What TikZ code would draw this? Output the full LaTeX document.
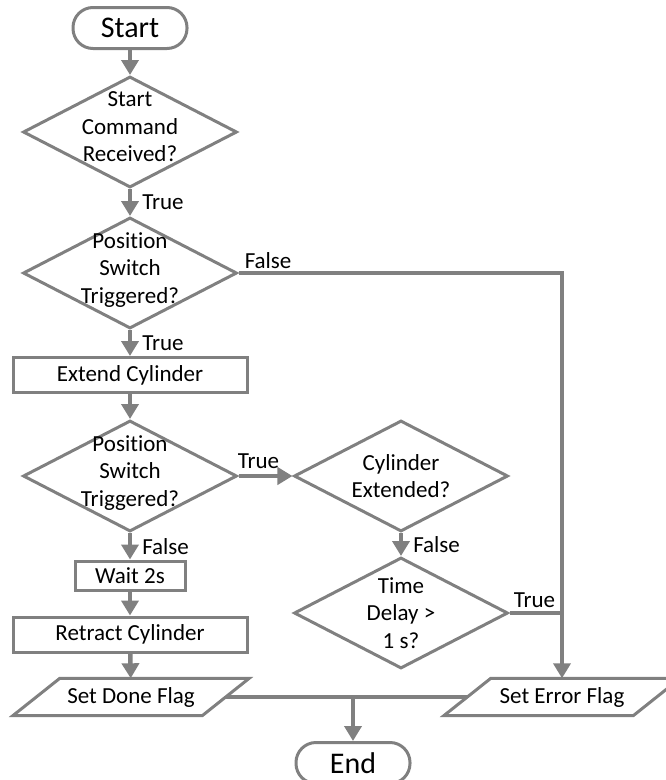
\documentclass[tikz,border=0pt]{standalone}
\usepackage{fontspec}
\setmainfont{Carlito}[Ligatures=NoCommon]
\usetikzlibrary{shapes.geometric,arrows.meta}
\definecolor{flowgray}{RGB}{128,128,128}
\newcommand{\flowfont}{\fontsize{23}{27.5}\selectfont}

\begin{document}
\begin{tikzpicture}[x=1pt,y=-1pt,
    terminal/.style={draw=flowgray, line width=3pt, rounded corners=20pt, minimum width=114pt, minimum height=41pt, inner sep=0pt, font=\fontsize{30}{36}\selectfont},
    decision/.style={draw=flowgray, line width=3pt, diamond, minimum width=214pt, minimum height=111pt, inner sep=0pt},
    process/.style={draw=flowgray, line width=3pt, minimum width=234pt, minimum height=35pt, inner sep=0pt, font=\flowfont},
    io/.style={minimum width=189pt, minimum height=37pt, inner sep=0pt, font=\flowfont},
    conn/.style={draw=flowgray, line width=4.5pt},
    arr/.style={conn, -{Triangle[length=15pt,width=17pt]}},
    lbl/.style={font=\flowfont, inner sep=2pt},
    qtext/.style={font=\flowfont, align=center}
]
\useasboundingbox (0,0) rectangle (665,780);

% Main column
\node[terminal] (start) at (130,28) {Start};
\node[decision, label={[qtext, yshift=5pt]center:{Start\\Command\\Received?}}] (d1) at (130,132) {};
\node[decision, label={[qtext, yshift=3pt]center:{Position\\Switch\\Triggered?}}] (d2) at (130,273) {};
\node[process] (extend) at (130,375) {Extend Cylinder};
\node[decision, label={[qtext, yshift=3pt]center:{Position\\Switch\\Triggered?}}] (d3) at (130,476) {};
\node[process, minimum width=110pt, minimum height=29pt] (wait) at (130,575.5) {Wait 2s};
\node[process] (retract) at (130,634.5) {Retract Cylinder};
\node[io] (done) at (131,697) {Set Done Flag};

% Checks on the right
\node[decision, label={[qtext]center:{Cylinder\\Extended?}}] (d4) at (401,476) {};
\node[decision, label={[qtext]center:{Time\\Delay >\\1 s?}}] (d5) at (401,613) {};
\node[io] (error) at (562,697) {Set Error Flag};
\node[terminal] (stop) at (353,763) {End};

% Slanted outlines of the two flag boxes
\foreach \n in {done,error}
  \draw[flowgray, line width=3pt]
    ([xshift=-23.5pt]\n.south west) -- ([xshift=-23.5pt]\n.south east)
    -- ([xshift=23.5pt]\n.north east) -- ([xshift=23.5pt]\n.north west) -- cycle;

% Connectors
\draw[arr] (start) -- (d1);
\draw[arr] (d1) -- node[lbl, right=8pt] {True} (d2);
\draw[arr] (d2) -- node[lbl, right=8pt] {True} (extend);
\draw[arr] (d2.east) node[lbl, anchor=south west, xshift=2pt] {False} -| (error.north);
\draw[arr] (extend) -- (d3);
\draw[arr] (d3) -- node[lbl, above, xshift=-7pt, yshift=3pt] {True} (d4);
\draw[arr] (d3) -- node[lbl, right=8pt] {False} (wait);
\draw[arr] (wait) -- (retract);
\draw[arr] (retract) -- (done);
\draw[arr] (d4) -- node[lbl, right=8pt] {False} (d5);
\draw[conn] (d5.east) node[lbl, anchor=south west, yshift=1pt] {True} -- (d5.east -| error.north);
\draw[conn] (done.east) -- (error.west);
\coordinate (merge) at (done.east -| stop.north);
\draw[arr] (merge) -- (stop);
\end{tikzpicture}
\end{document}
